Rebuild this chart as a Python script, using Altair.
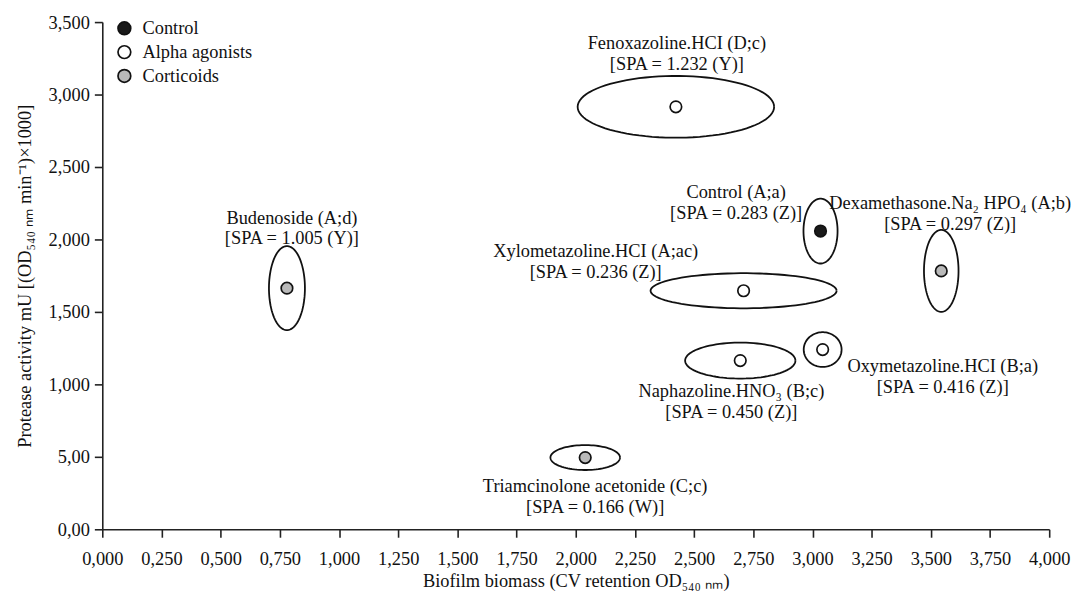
import altair as alt
import pandas as pd
import numpy as np

# ---------------- data ----------------
names = ["Fenoxazoline", "Control", "Dexamethasone", "Xylometazoline",
         "Naphazoline", "Oxymetazoline", "Budenoside", "Triamcinolone"]
groups = ["Alpha agonists", "Control", "Corticoids", "Alpha agonists",
          "Alpha agonists", "Alpha agonists", "Corticoids", "Corticoids"]
biomass = [2.423, 3.034, 3.544, 2.709, 2.695, 3.043, 0.780, 2.040]
protease = [2915, 2058, 1783, 1646, 1164, 1240, 1664, 495]
# half-axes of the dispersion ellipses (x in biomass units, y in protease units)
rad_x = [0.415, 0.072, 0.073, 0.393, 0.233, 0.080, 0.076, 0.147]
rad_y = [213, 224, 283, 121, 124, 120, 290, 86]
labels = [
    "Fenoxazoline.HCI (D;c)\n[SPA = 1.232 (Y)]",
    "Control (A;a)\n[SPA = 0.283 (Z)]",
    "Dexamethasone.Na\u2082 HPO\u2084 (A;b)\n[SPA = 0.297 (Z)]",
    "Xylometazoline.HCI (A;ac)\n[SPA = 0.236 (Z)]",
    "Naphazoline.HNO\u2083 (B;c)\n[SPA = 0.450 (Z)]",
    "Oxymetazoline.HCI (B;a)\n[SPA = 0.416 (Z)]",
    "Budenoside (A;d)\n[SPA = 1.005 (Y)]",
    "Triamcinolone acetonide (C;c)\n[SPA = 0.166 (W)]",
]
group_order = ["Control", "Alpha agonists", "Corticoids"]
group_fill = ["#1a1a1a", "#ffffff", "#b9b9b9"]

x_ticks = [0, 0.25, 0.5, 0.75, 1.0, 1.25, 1.5, 1.75, 2.0, 2.25, 2.5, 2.75,
           3.0, 3.25, 3.5, 3.75, 4.0]
x_tick_labels = ["0,000", "0,250", "0,500", "0,750", "1,000", "1,250", "1,500",
                 "1,750", "2,000", "2,250", "2,500", "2,750", "3,000", "3,250",
                 "3,500", "3,750", "4,000"]
y_ticks = [0, 500, 1000, 1500, 2000, 2500, 3000, 3500]
y_tick_labels = ["0,00", "5,00", "1,000", "1,500", "2,000", "2,500", "3,000", "3,500"]

# label offsets in pixels (style, not data)
label_offsets = {
    "Fenoxazoline": (1, -58),
    "Control": (-85, -33),
    "Dexamethasone": (9, -62),
    "Xylometazoline": (-149, -34),
    "Naphazoline": (-9, 37),
    "Oxymetazoline": (121, 23),
    "Budenoside": (5, -65),
    "Triamcinolone": (10, 35),
}

FONT = "Liberation Serif"
FS = 18.5
INK = "#111111"

pts = pd.DataFrame({"name": names, "group": groups, "x": biomass, "y": protease,
                    "rx": rad_x, "ry": rad_y, "label": labels})

# ellipse outlines built from centre and half-axes
angles = np.arange(0, 361, 4)
rows = []
for _, r in pts.iterrows():
    for a in angles:
        t = np.deg2rad(a)
        rows.append({"name": r["name"], "t": int(a),
                     "x": r["x"] + r["rx"] * np.cos(t),
                     "y": r["y"] + r["ry"] * np.sin(t)})
ell = pd.DataFrame(rows)

x_scale = alt.Scale(domain=[0, 4], nice=False, zero=False)
y_scale = alt.Scale(domain=[0, 3500], nice=False)

x_axis = alt.Axis(values=x_ticks, title="Biofilm biomass (CV retention OD\u2085\u2084\u2080 \u2099\u2098)",
                  labelExpr="[" + ",".join(f"'{l}'" for l in x_tick_labels) + "][round(datum.value*4)]",
                  grid=False, tickSize=8, labelPadding=12,
                  titleY=52, titleBaseline="middle",
                  domainColor="#222", tickColor="#222", domainWidth=1.6, tickWidth=1.6,
                  labelFont=FONT, labelFontSize=FS, labelColor=INK,
                  titleFont=FONT, titleFontSize=FS, titleFontWeight="normal", titleColor=INK,
                  labelOverlap=False, labelFlush=False)
y_axis = alt.Axis(values=y_ticks,
                  title="Protease activity mU [(OD\u2085\u2084\u2080 \u2099\u2098 min\u207b\u00b9)\u00d71000]",
                  labelExpr="[" + ",".join(f"'{l}'" for l in y_tick_labels) + "][round(datum.value/500)]",
                  grid=False, tickSize=8, labelPadding=5, titlePadding=14,
                  domainColor="#222", tickColor="#222", domainWidth=1.6, tickWidth=1.6,
                  labelFont=FONT, labelFontSize=FS, labelColor=INK,
                  titleFont=FONT, titleFontSize=FS, titleFontWeight="normal", titleColor=INK,
                  labelOverlap=False, labelFlush=False)

ellipses = alt.Chart(ell).mark_line(color=INK, strokeWidth=1.8).encode(
    x=alt.X("x:Q", scale=x_scale, axis=x_axis),
    y=alt.Y("y:Q", scale=y_scale, axis=y_axis),
    detail="name:N",
    order=alt.Order("t:Q"),
)

dots = alt.Chart(pts).mark_point(shape="circle", filled=True, size=135,
                                 stroke=INK, strokeWidth=1.7, opacity=1).encode(
    x="x:Q", y="y:Q",
    fill=alt.Fill("group:N",
                  scale=alt.Scale(domain=group_order, range=group_fill),
                  legend=alt.Legend(title=None, orient="none", legendX=13, legendY=-3,
                                    symbolType="circle", symbolSize=165,
                                    symbolStrokeColor=INK, symbolStrokeWidth=1.7,
                                    labelFont=FONT, labelFontSize=FS, labelColor=INK,
                                    labelOffset=9, rowPadding=3)),
)

texts = []
for nm in names:
    dx, dy = label_offsets[nm]
    texts.append(
        alt.Chart(pts).transform_filter(alt.datum.name == nm)
        .mark_text(font=FONT, fontSize=FS, color=INK, align="center",
                   baseline="alphabetic", lineBreak="\n", lineHeight=21,
                   dx=dx, dy=dy)
        .encode(x="x:Q", y="y:Q", text="label:N")
    )

chart = alt.layer(ellipses, dots, *texts).properties(
    width=954, height=511,
    padding={"left": 95, "top": 12, "right": 27, "bottom": 61},
    autosize=alt.AutoSizeParams(type="none"),
).configure_view(stroke=None)

chart.save("out.html", embed_options={"renderer": "svg", "actions": False})
